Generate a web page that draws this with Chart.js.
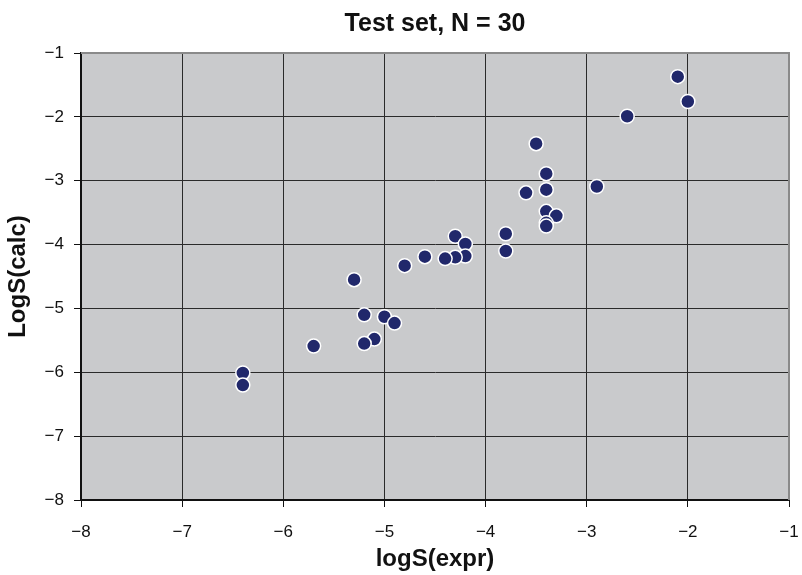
<!DOCTYPE html>
<html>
<head>
<meta charset="utf-8">
<script src="https://cdn.jsdelivr.net/npm/chart.js@4"></script>
<style>
  html, body { margin: 0; padding: 0; background: #fff; }
  #wrap { width: 802px; height: 575px; }
</style>
</head>
<body>
<div id="wrap"><canvas id="chart" width="802" height="575"></canvas></div>
<script>
// Test set points (experimental vs calculated logS)
const exprVals = [-2.1, -2.0, -2.6, -3.5, -3.4, -2.9, -3.6, -3.4, -3.4, -3.3, -3.4, -3.4, -3.8, -3.8, -4.3, -4.2, -4.2, -4.3, -4.4, -4.6, -4.8, -5.3, -5.2, -5.0, -4.9, -5.1, -5.2, -5.7, -6.4, -6.4];
const calcVals = [-1.37, -1.76, -1.99, -2.42, -2.89, -3.09, -3.19, -3.14, -3.48, -3.55, -3.66, -3.71, -3.83, -4.10, -3.87, -3.99, -4.18, -4.20, -4.22, -4.19, -4.33, -4.55, -5.10, -5.13, -5.23, -5.48, -5.55, -5.59, -6.01, -6.20];
const axisMin = -8;
const axisMax = -1;
const chartTitle = "Test set, N = 30";

const points = exprVals.map((x, i) => ({ x: x, y: calcVals[i] }));

const minus = (v) => (v < 0 ? "\u2212" + Math.abs(v) : String(v));

const fam = "'Liberation Sans', Arial, Helvetica, sans-serif";
const tickFont = { family: fam, size: 17 };

// grey plot area, light frame on top/right, title centred over the plot
const plotBg = {
  id: "plotBg",
  beforeDraw(chart) {
    const { ctx, chartArea: a } = chart;
    ctx.save();
    ctx.fillStyle = "#c9cacc";
    ctx.fillRect(a.left, a.top, a.right - a.left, a.bottom - a.top);
    ctx.restore();
  },
  beforeDatasetsDraw(chart) {
    const { ctx, chartArea: a } = chart;
    ctx.save();
    ctx.strokeStyle = "#8a8a8a";
    ctx.lineWidth = 2;
    ctx.beginPath();
    ctx.moveTo(a.left, a.top);
    ctx.lineTo(a.right, a.top);
    ctx.lineTo(a.right, a.bottom);
    ctx.stroke();
    ctx.restore();
  },
  afterDraw(chart) {
    const { ctx, chartArea: a } = chart;
    ctx.save();
    ctx.fillStyle = "#111";
    ctx.font = "bold 25px " + fam;
    ctx.textAlign = "center";
    ctx.textBaseline = "middle";
    ctx.fillText(chartTitle, (a.left + a.right) / 2, 24);
    ctx.restore();
  },
};

new Chart(document.getElementById("chart"), {
  type: "scatter",
  data: {
    datasets: [
      {
        data: points,
        backgroundColor: "#21286b",
        borderColor: "#ffffff",
        borderWidth: 1.5,
        pointRadius: 7,
        pointHoverRadius: 7,
      },
    ],
  },
  options: {
    responsive: false,
    animation: false,
    layout: { padding: { left: 0, right: 13, top: 53, bottom: 0 } },
    plugins: {
      legend: { display: false },
      tooltip: { enabled: false },
      title: { display: false },
    },
    scales: {
      x: {
        type: "linear",
        min: axisMin,
        max: axisMax,
        ticks: { stepSize: 1, color: "#111", font: tickFont, padding: 15, callback: minus },
        grid: { color: "#2a2a2a", lineWidth: 1, tickLength: 7, tickColor: "#111" },
        border: { color: "#111", width: 2 },
        title: { display: true, text: "logS(expr)", color: "#111", font: { family: fam, size: 24, weight: "bold", lineHeight: 1.2 }, padding: { top: 0, bottom: 1 } },
        afterFit(scale) {
          scale.height = 75;
          scale.paddingLeft = 0;
          scale.paddingRight = 0;
        },
      },
      y: {
        type: "linear",
        min: axisMin,
        max: axisMax,
        ticks: { stepSize: 1, color: "#111", font: tickFont, padding: 10, callback: minus },
        grid: { color: "#2a2a2a", lineWidth: 1, tickLength: 7, tickColor: "#111" },
        border: { color: "#111", width: 2 },
        title: { display: true, text: "LogS(calc)", color: "#111", font: { family: fam, size: 24, weight: "bold", lineHeight: 1.2 }, padding: { top: 4, bottom: 0 } },
        afterFit(scale) {
          scale.width = 81;
          scale.paddingTop = 0;
          scale.paddingBottom = 0;
        },
      },
    },
  },
  plugins: [plotBg],
});
</script>
</body>
</html>
